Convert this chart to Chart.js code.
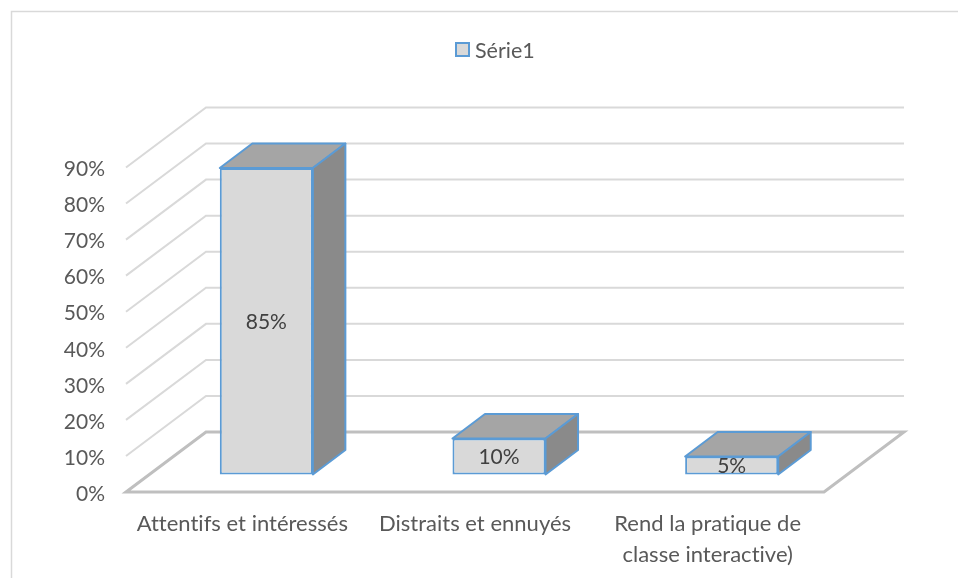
<!DOCTYPE html>
<html>
<head>
<meta charset="utf-8">
<style>html,body{margin:0;padding:0;background:#fff}canvas{display:block}</style>
<script src="https://cdn.jsdelivr.net/npm/chart.js@4"></script>
</head>
<body>
<canvas id="c" width="958" height="578"></canvas>
<script>
const categories = ["Attentifs et intéressés", "Distraits et ennuyés", ["Rend la pratique de", "classe interactive)"]];
const seriesName = "Série1";
const seriesValues = [85, 10, 5];
const FONT = "Lato, Carlito, sans-serif";

const wallDepth = {x: 80, y: -60};
const barShift = {x: 24, y: -17.5};
const barDepth = {x: 32.5, y: -24.5};

function poly(ctx, pts) {
  ctx.beginPath();
  pts.forEach((p, i) => i ? ctx.lineTo(p[0], p[1]) : ctx.moveTo(p[0], p[1]));
}

const legendFit = {
  id: 'legendFit',
  beforeInit(chart) {
    const orig = chart.legend.fit;
    chart.legend.fit = function () { orig.call(this); this.height = 167.5; };
    chart.legend.draw = function () {
      const ctx = this.ctx, item = this.legendItems[0];
      ctx.save();
      ctx.fillStyle = item.fillStyle;
      ctx.strokeStyle = item.strokeStyle;
      ctx.lineWidth = item.lineWidth;
      ctx.fillRect(456, 43, 13, 13);
      ctx.strokeRect(456, 43, 13, 13);
      ctx.fillStyle = '#595959';
      ctx.font = '21.5px ' + FONT;
      ctx.textAlign = 'left';
      ctx.textBaseline = 'middle';
      ctx.fillText(item.text, 475, 51);
      ctx.restore();
    };
  }
};

const frame = {
  id: 'frame',
  beforeDraw(chart) {
    const ctx = chart.ctx;
    ctx.letterSpacing = '0.01px';
    ctx.save();
    ctx.strokeStyle = '#D9D9D9';
    ctx.lineWidth = 1.5;
    poly(ctx, [[11.5, 578], [11.5, 11.5], [958, 11.5]]);
    ctx.stroke();
    ctx.restore();
  }
};

const walls = {
  id: 'walls',
  beforeDatasetsDraw(chart) {
    const ctx = chart.ctx, y = chart.scales.y, a = chart.chartArea;
    ctx.save();
    ctx.lineJoin = 'miter';
    y.ticks.forEach(t => {
      if (t.value === 0) return;
      const py = y.getPixelForValue(t.value);
      ctx.strokeStyle = '#D9D9D9';
      ctx.lineWidth = 2;
      poly(ctx, [[a.left, py], [a.left + wallDepth.x, py + wallDepth.y], [a.right + wallDepth.x, py + wallDepth.y]]);
      ctx.stroke();
    });
    const p0 = y.getPixelForValue(0);
    ctx.strokeStyle = '#BFBFBF';
    ctx.lineWidth = 3;
    poly(ctx, [[a.left, p0], [a.left + wallDepth.x, p0 + wallDepth.y], [a.right + wallDepth.x, p0 + wallDepth.y], [a.right, p0]]);
    ctx.closePath();
    ctx.stroke();
    ctx.restore();
  }
};

const bars3d = {
  id: 'bars3d',
  beforeDatasetDraw(chart, args) {
    const ctx = chart.ctx;
    ctx.save();
    ctx.translate(barShift.x, barShift.y);
    const dx = barDepth.x, dy = barDepth.y;
    ctx.strokeStyle = '#5B9BD5';
    ctx.lineWidth = 2;
    ctx.lineJoin = 'round';
    args.meta.data.forEach(b => {
      const l = b.x - b.width / 2, r = b.x + b.width / 2, t = b.y, s = b.base;
      ctx.fillStyle = '#A5A5A5';
      poly(ctx, [[l, t], [l + dx, t + dy], [r + dx, t + dy], [r, t]]);
      ctx.closePath(); ctx.fill(); ctx.stroke();
      ctx.fillStyle = '#8A8A8A';
      poly(ctx, [[r, t], [r + dx, t + dy], [r + dx, s + dy], [r, s]]);
      ctx.closePath(); ctx.fill(); ctx.stroke();
    });
  },
  afterDatasetDraw(chart) {
    chart.ctx.restore();
  },
  afterDatasetsDraw(chart) {
    const ctx = chart.ctx;
    ctx.save();
    ctx.fillStyle = '#404040';
    ctx.font = '21px ' + FONT;
    ctx.textAlign = 'center';
    ctx.textBaseline = 'middle';
    chart.getDatasetMeta(0).data.forEach((b, i) => {
      ctx.fillText(seriesValues[i] + '%', b.x + barShift.x, (b.y + b.base) / 2 + barShift.y + 1);
    });
    ctx.restore();
  }
};

new Chart(document.getElementById('c'), {
  type: 'bar',
  data: {
    labels: categories,
    datasets: [{
      label: seriesName,
      data: seriesValues,
      backgroundColor: '#D9D9D9',
      borderColor: '#5B9BD5',
      borderWidth: 2,
      borderSkipped: false,
      barPercentage: 0.4,
      categoryPercentage: 1,
      clip: false
    }]
  },
  plugins: [legendFit, frame, walls, bars3d],
  options: {
    responsive: false,
    animation: false,
    events: [],
    layout: {autoPadding: false, padding: {top: 0, left: 0, right: 134, bottom: 0}},
    plugins: {
      tooltip: {enabled: false},
      legend: {position: 'top', fullSize: true}
    },
    scales: {
      x: {
        grid: {display: false},
        border: {display: false},
        ticks: {
          color: '#595959', padding: 9, maxRotation: 0, minRotation: 0, autoSkip: false,
          font: {family: FONT, size: 22, lineHeight: 1.38}
        },
        afterFit(s) { s.height = 86; }
      },
      y: {
        min: 0, max: 90,
        grid: {display: false},
        border: {display: false},
        ticks: {
          stepSize: 10, color: '#595959', padding: 13,
          font: {family: FONT, size: 21},
          callback: v => v + '%'
        },
        afterFit(s) { s.width = 126; },
        afterUpdate(s) {
          if (s._shifted) return;
          s._shifted = true;
          const draw = s.drawLabels.bind(s);
          s.drawLabels = area => {
            s.ctx.save();
            s.ctx.translate(0, 2);
            draw(area);
            s.ctx.restore();
          };
        }
      }
    }
  }
});
</script>
</body>
</html>
